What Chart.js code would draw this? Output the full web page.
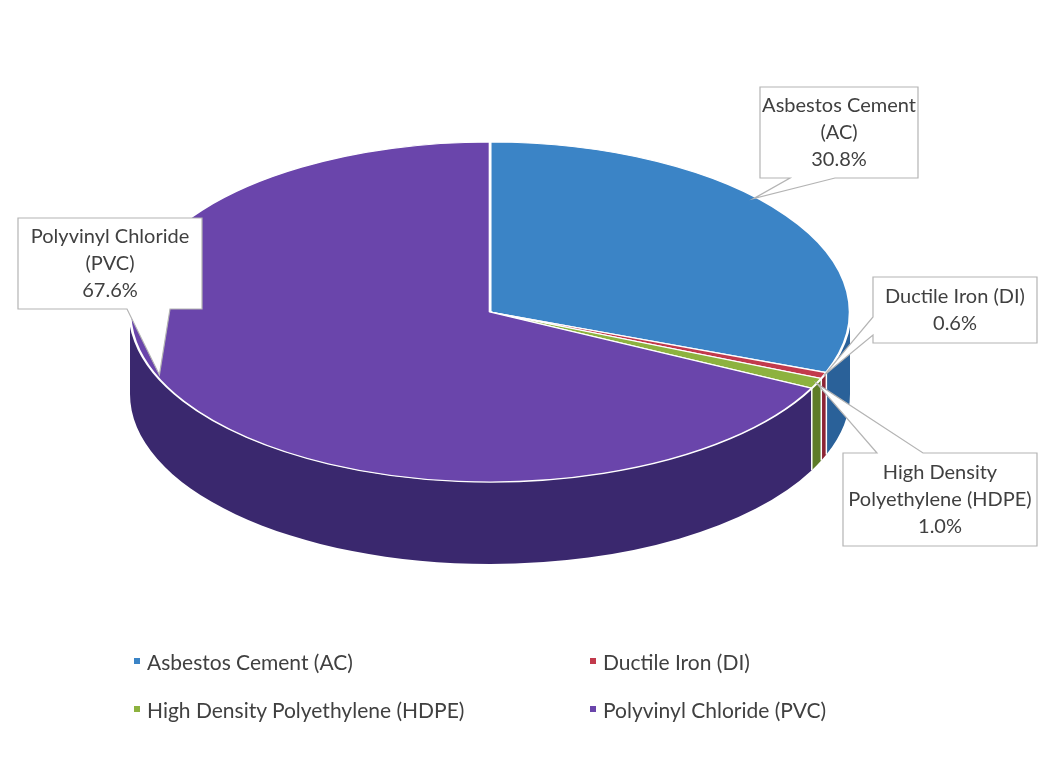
<!DOCTYPE html>
<html>
<head>
<meta charset="utf-8">
<script src="https://cdn.jsdelivr.net/npm/chart.js@4"></script>
<style>
  html, body { margin: 0; padding: 0; background: #fff; }
  #wrap { position: relative; width: 1057px; height: 782px; }
  #legend {
    position: absolute; left: 134px; top: 647px;
    display: grid; grid-template-columns: 456px 320px; row-gap: 20px;
    font: 21px Lato, sans-serif; color: #404040;
  }
  .item { display: flex; align-items: center; height: 28px; white-space: nowrap; }
  .swatch { width: 6px; height: 6px; margin-right: 7px; }
</style>
</head>
<body>
<div id="wrap">
  <canvas id="pipeChart" width="1057" height="782"></canvas>
  <div id="legend"></div>
</div>
<script>
// Pipe material shares
const materials = ['Asbestos Cement (AC)', 'Ductile Iron (DI)', 'High Density Polyethylene (HDPE)', 'Polyvinyl Chloride (PVC)'];
const calloutText = [['Asbestos Cement', '(AC)'], ['Ductile Iron (DI)'], ['High Density', 'Polyethylene (HDPE)'], ['Polyvinyl Chloride', '(PVC)']];
const sharePct = [30.8, 0.6, 1.0, 67.6];

const topColors = ['#3b84c6', '#c23a4c', '#8db23f', '#6a45ab'];
const sideColors = ['#2a6199', '#8c2535', '#5e7c28', '#3a286e'];

// ellipse size of the tilted disc and its thickness
const RX = 360, RY = 170, DEPTH = 82;

// callout boxes: x, y, w, h, which edge the pointer leaves from, pointer base
const calloutBoxes = [
  { x: 760, y: 87, w: 158, h: 91, edge: 'bottom', b1: 790, b2: 835 },
  { x: 873, y: 277, w: 164, h: 66, edge: 'left', b1: 317, b2: 335 },
  { x: 843, y: 453, w: 194, h: 93, edge: 'top', b1: 877, b2: 923 },
  { x: 18, y: 218, w: 184, h: 91, edge: 'bottom', b1: 127, b2: 170 }
];
// where along each slice the pointer lands, and how far out
const tipFrac = [0.43, 0.5, 0.5, 0.54];
const tipScale = [0.99, 1.0, 1.0, 0.99];

function ellipsePoint(cx, cy, a, f) {
  return { x: cx + RX * f * Math.cos(a), y: cy + RY * f * Math.sin(a) };
}

const tiltedPie = {
  id: 'tiltedPie',
  beforeDatasetsDraw(chart) {
    const ctx = chart.ctx;
    const arcs = chart.getDatasetMeta(0).data;
    const { x: cx, y: cy, outerRadius: r } = arcs[0];

    // outer wall, only the half that faces the viewer
    arcs.forEach((arc, i) => {
      const s = Math.max(arc.startAngle, 0);
      const e = Math.min(arc.endAngle, Math.PI);
      if (e <= s) return;
      ctx.beginPath();
      ctx.ellipse(cx, cy, RX, RY, 0, s, e);
      ctx.ellipse(cx, cy + DEPTH, RX, RY, 0, e, s, true);
      ctx.closePath();
      ctx.fillStyle = sideColors[i];
      ctx.fill();
    });
    ctx.strokeStyle = '#ffffff';
    ctx.lineWidth = 1.5;
    arcs.forEach(arc => {
      const a = arc.endAngle;
      if (a <= 0 || a >= Math.PI) return;
      const p = ellipsePoint(cx, cy, a, 1);
      ctx.beginPath();
      ctx.moveTo(p.x, p.y);
      ctx.lineTo(p.x, p.y + DEPTH);
      ctx.stroke();
    });

    // squash the round pie into the top face
    ctx.save();
    ctx.translate(cx, cy);
    ctx.scale(RX / r, RY / r);
    ctx.translate(-cx, -cy);
  },
  afterDatasetsDraw(chart) {
    chart.ctx.restore();
  },
  afterDraw(chart) {
    const ctx = chart.ctx;
    const arcs = chart.getDatasetMeta(0).data;
    arcs.forEach((arc, i) => {
      const bx = calloutBoxes[i];
      const at = arc.startAngle + tipFrac[i] * (arc.endAngle - arc.startAngle);
      const tip = ellipsePoint(arc.x, arc.y, at, tipScale[i]);
      const { x, y, w, h } = bx;
      ctx.beginPath();
      ctx.moveTo(x, y);
      if (bx.edge === 'top') {
        ctx.lineTo(bx.b1, y); ctx.lineTo(tip.x, tip.y); ctx.lineTo(bx.b2, y);
      }
      ctx.lineTo(x + w, y);
      ctx.lineTo(x + w, y + h);
      if (bx.edge === 'bottom') {
        ctx.lineTo(bx.b2, y + h); ctx.lineTo(tip.x, tip.y); ctx.lineTo(bx.b1, y + h);
      }
      ctx.lineTo(x, y + h);
      if (bx.edge === 'left') {
        ctx.lineTo(x, bx.b2); ctx.lineTo(tip.x, tip.y); ctx.lineTo(x, bx.b1);
      }
      ctx.closePath();
      ctx.fillStyle = '#ffffff';
      ctx.fill();
      ctx.strokeStyle = '#b4b4b4';
      ctx.lineWidth = 1.2;
      ctx.stroke();

      const lines = calloutText[i].concat([sharePct[i].toFixed(1) + '%']);
      ctx.fillStyle = '#404040';
      ctx.font = '20px Lato, sans-serif';
      ctx.textAlign = 'center';
      ctx.textBaseline = 'middle';
      const lh = 27;
      const y0 = y + h / 2 - (lines.length - 1) * lh / 2;
      lines.forEach((t, k) => ctx.fillText(t, x + w / 2, y0 + k * lh));
    });
  }
};

new Chart(document.getElementById('pipeChart'), {
  type: 'pie',
  data: {
    labels: materials,
    datasets: [{
      data: sharePct,
      backgroundColor: topColors,
      borderColor: '#ffffff',
      borderWidth: 2.2,
      clip: false
    }]
  },
  options: {
    responsive: false,
    animation: false,
    radius: 300,
    layout: { padding: { left: 190, right: 267, top: 12, bottom: 170 } },
    plugins: {
      legend: { display: false },
      tooltip: { enabled: false }
    }
  },
  plugins: [tiltedPie]
});

// legend in two columns below the pie
const legendEl = document.getElementById('legend');
materials.forEach((m, i) => {
  const item = document.createElement('div');
  item.className = 'item';
  item.innerHTML = '<span class="swatch" style="background:' + topColors[i] + '"></span>' + m;
  legendEl.appendChild(item);
});
</script>
</body>
</html>
